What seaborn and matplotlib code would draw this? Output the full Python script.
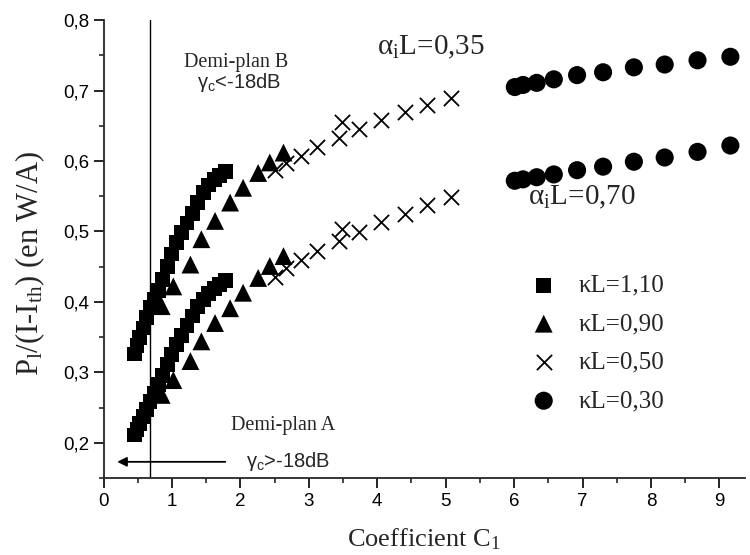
import numpy as np
import pandas as pd
import matplotlib
matplotlib.use("Agg")
import matplotlib.pyplot as plt
import seaborn as sns

# kappa*L = 1.10 (squares)
sq_x = [0.45, 0.49, 0.53, 0.58, 0.63, 0.68, 0.74, 0.80, 0.86, 0.93, 1.00,
        1.07, 1.14, 1.22, 1.30, 1.38, 1.46, 1.54, 1.62, 1.70, 1.78]
sq_y_035 = [0.326, 0.338, 0.350, 0.363, 0.378, 0.392, 0.403, 0.416, 0.432, 0.450, 0.468,
            0.484, 0.498, 0.512, 0.526, 0.541, 0.555, 0.566, 0.574, 0.580, 0.585]
sq_y_070 = [0.211, 0.219, 0.227, 0.237, 0.247, 0.258, 0.270, 0.283, 0.296, 0.311, 0.325,
            0.339, 0.352, 0.366, 0.380, 0.394, 0.403, 0.412, 0.419, 0.425, 0.430]

# kappa*L = 0.90 (triangles)
tr_x = [0.85, 1.02, 1.27, 1.43, 1.63, 1.85, 2.04, 2.26, 2.43, 2.63]
tr_y_035 = [0.394, 0.422, 0.453, 0.489, 0.515, 0.541, 0.562, 0.583, 0.598, 0.612]
tr_y_070 = [0.268, 0.289, 0.316, 0.344, 0.370, 0.391, 0.413, 0.434, 0.451, 0.465]

# kappa*L = 0.50 (crosses)
cr_x = [2.50, 2.67, 2.88, 3.12, 3.44, 3.48, 3.73, 4.06, 4.40, 4.72, 5.08]
cr_y_035 = [0.587, 0.597, 0.607, 0.620, 0.633, 0.655, 0.646, 0.658, 0.670, 0.679, 0.690]
cr_y_070 = [0.435, 0.448, 0.459, 0.472, 0.487, 0.504, 0.499, 0.513, 0.525, 0.537, 0.549]

# kappa*L = 0.30 (circles)
ci_x = [6.01, 6.13, 6.33, 6.58, 6.92, 7.30, 7.75, 8.20, 8.68, 9.16]
ci_y_035 = [0.705, 0.708, 0.711, 0.716, 0.722, 0.726, 0.733, 0.737, 0.743, 0.748]
ci_y_070 = [0.572, 0.574, 0.577, 0.581, 0.587, 0.592, 0.599, 0.605, 0.613, 0.622]

x_ticks = [0, 1, 2, 3, 4, 5, 6, 7, 8, 9]
y_ticks = [0.2, 0.3, 0.4, 0.5, 0.6, 0.7, 0.8]
y_tick_labels = ["0,2", "0,3", "0,4", "0,5", "0,6", "0,7", "0,8"]
legend_labels = ["κL=1,10", "κL=0,90", "κL=0,50", "κL=0,30"]

sns.set_style("ticks")
plt.rcParams["font.family"] = ["Liberation Sans", "DejaVu Sans"]
plt.rcParams["mathtext.fontset"] = "custom"
plt.rcParams["mathtext.rm"] = "Liberation Serif"
plt.rcParams["mathtext.it"] = "Liberation Serif:italic"
plt.rcParams["mathtext.sf"] = "Liberation Sans"

SERIF = ["Liberation Serif", "DejaVu Serif"]

fig = plt.figure(figsize=(7.5, 5.55), dpi=100)
ax = fig.add_axes([0.138, 0.1387, 0.855, 0.825])

styles = [
    (sq_x, sq_y_035, sq_y_070, "s", 115, 0),
    (tr_x, tr_y_035, tr_y_070, "^", 165, 0),
    (cr_x, cr_y_035, cr_y_070, "x", 120, 1.3),
    (ci_x, ci_y_035, ci_y_070, "o", 170, 0),
]
handles = []
for (xs, y1, y2, mk, size, lw), lab in zip(styles, legend_labels):
    df = pd.DataFrame({"C1": xs + xs, "P": y1 + y2})
    if mk == "x":
        sns.scatterplot(data=df, x="C1", y="P", marker=mk, s=size, color="black",
                        linewidth=lw, ax=ax, legend=False, zorder=3)
    else:
        sns.scatterplot(data=df, x="C1", y="P", marker=mk, s=size, color="black",
                        edgecolor="none", linewidth=0, ax=ax, legend=False, zorder=3)
    handles.append(ax.collections[-1])

# boundary between the two half-planes
ax.axvline(0.68, color="black", lw=1.0, zorder=2)
ax.annotate("", xy=(0.2, 0.173), xytext=(1.78, 0.173),
            arrowprops=dict(arrowstyle="-|>", color="black", lw=1.3,
                            mutation_scale=14, shrinkA=0, shrinkB=0))

ax.text(1.94, 0.740, "Demi-plan B", family=SERIF, fontsize=14.5, ha="center", va="center")
ax.text(1.98, 0.712, r"γ$_{\mathsf{c}}$<-18dB", fontsize=14.5, ha="center", va="center")
ax.text(2.63, 0.224, "Demi-plan A", family=SERIF, fontsize=14.5, ha="center", va="center")
ax.text(2.69, 0.173, r"γ$_{\mathsf{c}}$>-18dB", fontsize=14.5, ha="center", va="center")
ax.text(4.78, 0.762, r"α$_{\mathrm{i}}$L=0,35", family=SERIF, fontsize=21, ha="center", va="center")
ax.text(6.99, 0.548, r"α$_{\mathrm{i}}$L=0,70", family=SERIF, fontsize=21, ha="center", va="center")

ax.set_xlim(0, 9.37)
ax.set_ylim(0.15, 0.8)
ax.set_xticks(x_ticks)
ax.set_xticklabels([str(t) for t in x_ticks])
ax.set_yticks(y_ticks)
ax.set_yticklabels(y_tick_labels)
ax.set_xticks(np.arange(0.5, 9.4, 1.0), minor=True)
ax.set_yticks(np.arange(0.15, 0.8, 0.1), minor=True)
ax.tick_params(which="major", direction="out", length=7, width=1.2, labelsize=13.5, colors="black")
ax.tick_params(which="minor", direction="out", length=3.5, width=1.2)

ax.set_xlabel(r"Coefficient C$_{1}$", family=SERIF, fontsize=19, labelpad=12)
ax.set_ylabel(r"P$_{\mathrm{l}}$/(I-I$_{\mathrm{th}}$) (en W/A)", family=SERIF, fontsize=22)
ax.yaxis.set_label_coords(-0.088, 0.469)

for side in ["top", "right"]:
    ax.spines[side].set_visible(False)
for side in ["left", "bottom"]:
    ax.spines[side].set_linewidth(1.3)

leg = ax.legend(handles, legend_labels, loc="upper left", bbox_to_anchor=(0.667, 0.445),
                frameon=False, borderpad=0, borderaxespad=0, handlelength=1.0,
                handletextpad=0.9, labelspacing=0.64, prop={"family": SERIF, "size": 18})

fig.savefig("out.png", dpi=100)
